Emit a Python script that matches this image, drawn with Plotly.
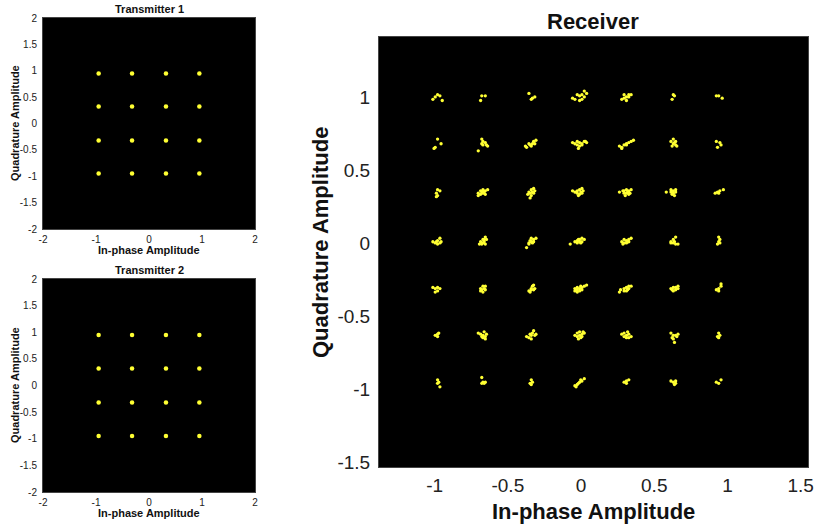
import plotly.graph_objects as go

# ---------------- data ----------------
TX_LEVELS = [-0.95, -0.32, 0.32, 0.95]          # 16-QAM levels, both transmitters
TX1_I = [i for q in TX_LEVELS for i in TX_LEVELS]
TX1_Q = [q for q in TX_LEVELS for i in TX_LEVELS]
TX2_I = list(TX1_I)
TX2_Q = list(TX1_Q)

RX_I_LEVELS = [-0.98, -0.67, -0.34, -0.01, 0.31, 0.63, 0.94]
RX_Q_LEVELS = [1.00, 0.68, 0.35, 0.01, -0.31, -0.63, -0.95]
OFFSET_UNIT = 0.016   # offsets below are read in this unit

RX_ROW1 = [
    [(-2, -1), (0, 1), (1, 0.5), (2, -1.5), (-1, 0)],
    [(-0.5, 0.5), (1, 0.5), (-1, -1.5)],
    [(-1, 1.5), (0.5, -0.5), (1.5, 0), (0, -1)],
    [(-3, -0.5), (-1, 1), (0, 0.5), (1, -1), (2, 2.5), (3, 1.5), (-2, -1), (0, -1.5), (1, 1), (2, 0)],
    [(-2, -1), (-1, 1), (0, 0), (1, 1), (2, 1), (0, -1.5), (1, 0), (-1, -0.5)],
    [(0, 1), (-0.5, -1), (0.5, 0.5)],
    [(-1, 0.5), (0, 0.5), (1.5, -0.5)],
]
RX_ROW2 = [
    [(0, 2), (1.5, 0), (-1.5, -2), (-1, -1.5)],
    [(-0.5, 2), (0, 1), (1, 0.5), (0, -0.5), (2, -1), (-2, -3), (1.5, -0.5), (-0.5, 0)],
    [(-2.5, -1), (-2, -1.5), (-0.5, -0.5), (0.5, 0), (1, 1), (2, 1.5), (1.5, 0), (0, -1), (-1, 0)],
    [(-3, 0.5), (-2, 0), (-1, 1), (0, 0.5), (1, 0), (2, 1), (3, 0.5), (0, -1), (-1, -0.5), (1, -0.5), (-0.5, -2), (2.5, 1)],
    [(-3, -1), (-2, -1.5), (-1, -0.5), (0, 0), (1, 0.5), (2, 1), (3, 1.5), (0, -0.5), (-2, -2)],
    [(-1, 1), (0, 2), (1, 1), (0, 0), (1, -0.5), (-0.5, -1), (1.5, -1), (0.5, 0.5)],
    [(-1, 1), (0.5, 0.5), (1, -0.5), (-0.5, -1.5)],
]
RX_ROW3 = [
    [(0, 1), (1, 0.5), (-0.5, -0.5), (0, -1.5), (-0.5, -2)],
    [(-2, -0.5), (-1, 0.5), (0, 1), (1, 0.5), (2, 1), (0, -0.5), (-1, -1), (1, -1), (-2, -1.5), (0.5, 0), (-0.5, 0)],
    [(-1, 0), (0, 1), (1, 1.5), (1.5, 0.5), (0.5, 0), (-0.5, -0.5), (0, -1.5), (-0.5, -2.5), (1, -0.5), (-1.5, -1)],
    [(-3, 0.5), (-2, 0), (-1, -0.5), (0, 1), (1, 1.5), (1.5, 0.5), (0, -1), (-0.5, -1.5), (1, -0.5), (0.5, 0), (-1, 0.5)],
    [(-3, 0), (-1.5, 0.5), (-1, -0.5), (0, 1), (1, 0.5), (2, 1), (0, -0.5), (-0.5, -1.5), (1, -1), (0.5, 0), (-1, 0.5), (1.5, -0.5)],
    [(-3, 0), (-1, 1), (0, 0.5), (1, 1), (0, -0.5), (0.5, -1.5), (-0.5, -1), (1, 0), (-1, 0)],
    [(-1.5, -0.5), (-0.5, 0), (0.5, 0.5), (2, 1), (0, -0.5)],
]
RX_ROW4 = [
    [(-2, 0), (-1, -0.5), (0, 0.5), (1, 1.5), (1.5, 0), (0, -1), (-0.5, 0), (1, -0.5)],
    [(-1, 0), (0, 1), (1, 2), (1.5, 1), (0.5, 0), (-0.5, -1), (0, -0.5), (1, -1), (-1.5, -1), (0.5, 1)],
    [(-2, -2.5), (-1, -1), (0, 0), (1, 1), (2, 1.5), (0.5, -0.5), (-0.5, 0.5), (1, 0), (0, 1.5), (-1, -0.5)],
    [(-4, -1), (-2, 0), (-1, 0.5), (0, 1), (1, 1.5), (2, 1), (0, 0), (-1, -0.5), (1, 0), (0.5, -0.5), (-0.5, 1)],
    [(-2, 0), (-1, 1), (0, 0.5), (1, 1), (2, 1.5), (-1, -0.5), (0, -0.5), (1, 0), (-1.5, -1), (0.5, 0)],
    [(-1, 0), (0, 1), (1, 2), (0.5, 0), (-1, -0.5), (1, -1), (2, -1), (0, -0.5)],
    [(0, 2), (0.5, 1), (0, 0), (0.5, -0.5), (-0.5, -1)],
]
RX_ROW5 = [
    [(-2, 0.5), (-1, 0), (0, 0.5), (1, 0), (0, -1), (-1, -1.5)],
    [(-1, 0), (0, 1), (1, 1), (0.5, 0), (-0.5, -0.5), (1, -0.5), (0, -1.5), (-1, -1)],
    [(-1, -1), (0, 0), (0.5, 1), (1, 1.5), (1.5, 0), (0, -0.5), (-0.5, -1.5), (1, -0.5)],
    [(-2, -1), (-1, -0.5), (0, 0), (1, 0.5), (2, 1), (3, 1.5), (-1, 0.5), (0, -1), (1, -0.5), (-2, 0), (0.5, 1), (-1, -1.5)],
    [(-3, -1.5), (-2.5, -0.5), (-1, 0), (0, 0.5), (1, 1), (2, 1), (0, -1), (-1, -1), (1, 0), (0.5, -0.5)],
    [(-1, 0), (0, 0.5), (1, -0.5), (2, 1), (2, 0), (0, -1), (-0.5, -0.5), (1, 0.5)],
    [(-1, -0.5), (0, 0), (1, 1), (1, 2), (0, -1)],
]
RX_ROW6 = [
    [(-1, 0), (0, 0.5), (0.5, 1), (0, -0.5)],
    [(-2, 1), (-1, 0.5), (0, 0), (1, -0.5), (1.5, 0.5), (0, -1), (0.5, 1.5), (-0.5, -0.5), (1, -1.5)],
    [(-2, -0.5), (-1, -1), (0, 0), (0.5, 1), (1, 2), (1.5, 0), (0, -1.5), (-0.5, 0.5), (2, 0.5)],
    [(-2, 0), (-1, 1), (0, 1.5), (1, 0.5), (2, 1), (0, 0), (-1, -0.5), (1, -0.5), (-0.5, -1.5), (0.5, -1), (1.5, 1.5)],
    [(-2, 0.5), (-1, 1), (0, 0), (1, 0.5), (2, -0.5), (0, -1), (-1, -0.5), (1, -1), (0.5, 1.5)],
    [(-1, 1), (0, 0), (1, 0), (2, 0.5), (-0.5, -1), (0, -1.5), (1.5, -0.5), (0.5, -3)],
    [(0, 1), (0.5, 0), (-0.5, -0.5), (0, -1)],
]
RX_ROW7 = [
    [(0, 1), (0.5, 0), (0, -0.5), (1, -2)],
    [(-0.5, 2), (0, 0), (0.5, -0.5), (1, 0), (-0.5, -0.5)],
    [(0, 1), (0.5, 0), (-0.5, -0.5), (0, -1)],
    [(-2, -1.5), (-1, -1), (0, 0), (1, 0.5), (2, 1.5), (0.5, 1), (-0.5, -0.5), (-1.5, -2)],
    [(-1, 0), (0, 0.5), (1, 1), (0, -0.5)],
    [(-1, 0.5), (0, 0), (1, -0.5), (0.5, -1), (1, 0.5)],
    [(-1, 0), (0, -0.5), (1, 1)],
]
RX_ROWS = [RX_ROW1, RX_ROW2, RX_ROW3, RX_ROW4, RX_ROW5, RX_ROW6, RX_ROW7]

SMALL_TICKS = [-2, -1.5, -1, -0.5, 0, 0.5, 1, 1.5, 2]
SMALL_XTICKS = [-2, -1, 0, 1, 2]
RX_XTICKS = [-1, -0.5, 0, 0.5, 1, 1.5]
RX_YTICKS = [-1.5, -1, -0.5, 0, 0.5, 1]

rx_i, rx_q = [], []
for qlev, row in zip(RX_Q_LEVELS, RX_ROWS):
    for ilev, cluster in zip(RX_I_LEVELS, row):
        for dx, dy in cluster:
            rx_i.append(ilev + dx * OFFSET_UNIT)
            rx_q.append(qlev + dy * OFFSET_UNIT)

# ---------------- figure ----------------
W, H = 822, 525
FONT = "Liberation Sans, Arial, Helvetica, sans-serif"
YELLOW = "#ffff33"

def px_x(p):
    return p / W

def px_y(p):
    return 1 - p / H

fig = go.Figure()
fig.add_trace(go.Scatter(x=TX1_I, y=TX1_Q, mode="markers", xaxis="x", yaxis="y",
                         marker=dict(color=YELLOW, size=4.5), showlegend=False))
fig.add_trace(go.Scatter(x=TX2_I, y=TX2_Q, mode="markers", xaxis="x2", yaxis="y2",
                         marker=dict(color=YELLOW, size=4.5), showlegend=False))
fig.add_trace(go.Scatter(x=rx_i, y=rx_q, mode="markers", xaxis="x3", yaxis="y3",
                         marker=dict(color=YELLOW, size=3.3), showlegend=False))

def small_ax(domain, anchor, ticks, is_x):
    return dict(domain=domain, anchor=anchor, range=[-2, 2], tickvals=ticks,
                ticktext=[f"{t:g}" for t in ticks], showgrid=False, zeroline=False,
                showline=True, linecolor="#444", linewidth=1, mirror=True,
                ticks="", tickfont=dict(family=FONT, size=10, color="#222"),
                ticklabelstandoff=1 if is_x else 3, fixedrange=True, automargin=False)

def big_ax(domain, anchor, rng, ticks, standoff):
    return dict(domain=domain, anchor=anchor, range=rng, tickvals=ticks,
                ticktext=[f"{t:g}" for t in ticks], showgrid=False, zeroline=False,
                showline=True, linecolor="#444", linewidth=1, mirror=True,
                ticks="", tickfont=dict(family=FONT, size=19, color="#222"),
                ticklabelstandoff=standoff, fixedrange=True, automargin=False)

sx = [px_x(43), px_x(255)]
fig.update_layout(
    width=W, height=H, margin=dict(l=0, r=0, t=0, b=0),
    paper_bgcolor="white", plot_bgcolor="black", showlegend=False,
    font=dict(family=FONT, color="#111"),
    xaxis=small_ax(sx, "y", SMALL_XTICKS, True),
    yaxis=small_ax([px_y(229), px_y(18)], "x", SMALL_TICKS, False),
    xaxis2=small_ax(sx, "y2", SMALL_XTICKS, True),
    yaxis2=small_ax([px_y(492), px_y(279)], "x2", SMALL_TICKS, False),
    xaxis3=big_ax([px_x(379), px_x(808)], "y3", [-1.38, 1.55], RX_XTICKS, 1),
    yaxis3=big_ax([px_y(467), px_y(37)], "x3", [-1.53, 1.41], RX_YTICKS, 4),
)

def label(text, x, y, size, angle=0):
    fig.add_annotation(text=f"<b>{text}</b>", x=px_x(x), y=px_y(y), xref="paper", yref="paper",
                       xanchor="center", yanchor="middle", showarrow=False, textangle=angle,
                       font=dict(family=FONT, size=size, color="#111"))

# subplot titles
label("Transmitter 1", 149, 9, 11)
label("Transmitter 2", 149, 270, 11)
label("Receiver", 593, 22, 22)
# axis titles
label("In-phase Amplitude", 149, 250, 11)
label("Quadrature Amplitude", 15, 123, 11, -90)
label("In-phase Amplitude", 149, 513, 11)
label("Quadrature Amplitude", 15, 385, 11, -90)
label("In-phase Amplitude", 593, 511, 22)
label("Quadrature Amplitude", 320, 243, 22, -90)

# remove the default 8 px body margin so the figure fills the window exactly
fig.write_html("out.html", config={"displayModeBar": False},
               post_script="document.body.style.margin='0px';")
